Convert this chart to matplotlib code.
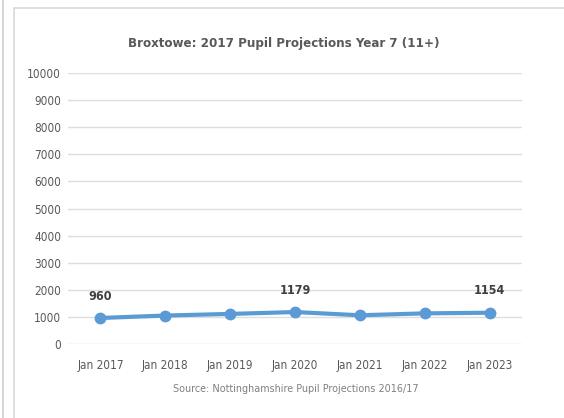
import matplotlib.pyplot as plt
from matplotlib.patches import Rectangle
from matplotlib.lines import Line2D

years = ['Jan 2017', 'Jan 2018', 'Jan 2019', 'Jan 2020', 'Jan 2021', 'Jan 2022', 'Jan 2023']
pupils = [960, 1050, 1110, 1179, 1060, 1130, 1154]
labelled = [0, 3, 6]  # points that carry a data label

plt.rcParams['font.family'] = ['Liberation Sans Narrow', 'DejaVu Sans']
plt.rcParams['font.stretch'] = 'condensed'

fig = plt.figure(figsize=(5.64, 4.18), dpi=100)

# chart frame like the Excel chart area
fig.add_artist(Line2D([3/564, 3/564], [0, 1], color='#d0d0d0', lw=1.2))
fig.add_artist(Rectangle((14/564, -0.01), 0.99, 1 - 8/418 + 0.01, fill=False,
                         edgecolor='#d9d9d9', lw=1.2, transform=fig.transFigure))

ax = fig.add_axes([68/564, 1 - 344/418, (522 - 68)/564, (344 - 73)/418])
x = range(len(years))
ax.plot(x, pupils, color='#5b9bd5', lw=3, marker='o', ms=7.5, solid_capstyle='round')

for i in labelled:
    ax.annotate(str(pupils[i]), (i, pupils[i]), xytext=(0, 11), textcoords='offset points',
                ha='center', va='bottom', fontsize=9, fontweight='bold', color='#404040')

ax.set_xlim(-0.5, len(years) - 0.5)
ax.set_ylim(0, 10000)
ax.set_yticks(range(0, 10001, 1000))
ax.set_xticks(list(x))
ax.set_xticklabels(years)
ax.grid(axis='y', color='#dedede', lw=1)
ax.set_axisbelow(True)
for s in ax.spines.values():
    s.set_visible(False)
ax.tick_params(length=0, labelsize=8.5, colors='#595959')
ax.tick_params(axis='y', pad=5)
ax.tick_params(axis='x', pad=11)

fig.text(284/564, 1 - 43/418, 'Broxtowe: 2017 Pupil Projections Year 7 (11+)', ha='center', va='center',
         fontsize=9.5, fontweight='bold', color='#595959')
fig.text(296/564, 1 - 389/418, 'Source: Nottinghamshire Pupil Projections 2016/17', ha='center', va='center',
         fontsize=7.75, color='#808080')

fig.savefig('out.png', dpi=100)
